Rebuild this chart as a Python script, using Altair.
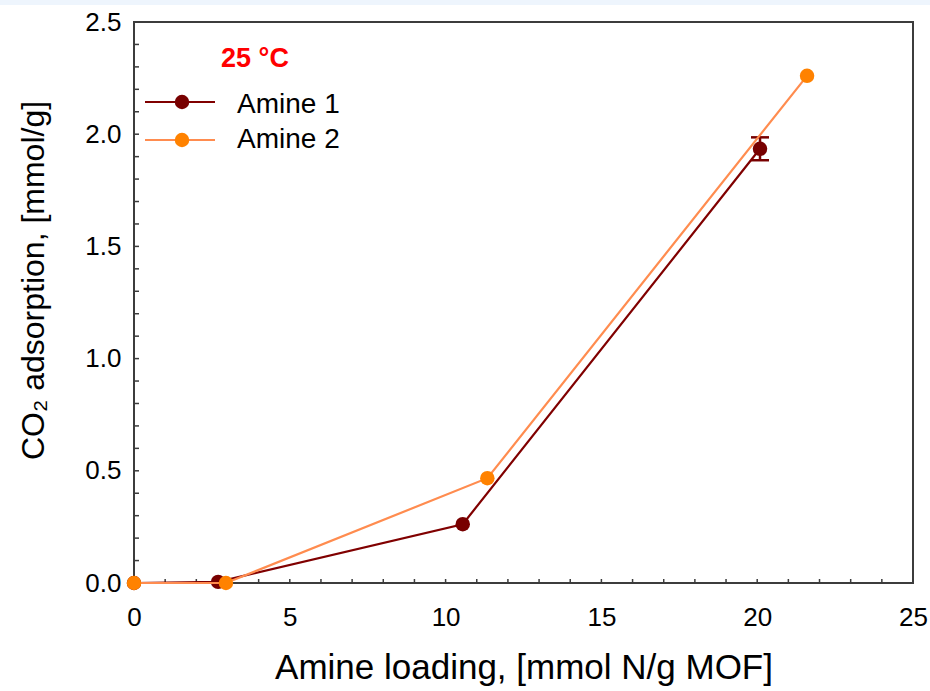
import altair as alt
import pandas as pd

# ---- data ----
series = ["Amine 1", "Amine 2"]
amine1_x = [0.0, 2.70, 10.55, 20.09]
amine1_y = [0.0, 0.005, 0.262, 1.935]
amine1_err = [0.0, 0.0, 0.0, 0.051]
amine2_x = [0.0, 2.95, 11.34, 21.60]
amine2_y = [0.0, 0.0, 0.467, 2.26]

x_major = [0, 5, 10, 15, 20, 25]
y_major = [0.0, 0.5, 1.0, 1.5, 2.0, 2.5]
x_minor = list(range(0, 26))
y_minor = [round(i * 0.1, 1) for i in range(26)]

legend_title = "25 °C"
x_title = "Amine loading, [mmol N/g MOF]"
y_title = "CO₂ adsorption, [mmol/g]"

line_colors = ["#800000", "#ff8c4f"]
marker_colors = ["#780000", "#ff8200"]

W, H = 779, 561
FONT = "Liberation Sans"

df1 = pd.DataFrame({"x": amine1_x, "y": amine1_y, "err": amine1_err})
df2 = pd.DataFrame({"x": amine2_x, "y": amine2_y})
err_df = df1[df1["err"] > 0].copy()
err_df["lo"] = err_df["y"] - err_df["err"]
err_df["hi"] = err_df["y"] + err_df["err"]
cap_df = pd.DataFrame({"x": list(err_df["x"]) * 2,
                       "y": list(err_df["lo"]) + list(err_df["hi"])})

xscale = alt.Scale(domain=[0, 25], nice=False, zero=False)
yscale = alt.Scale(domain=[0, 2.5], nice=False, zero=False)

xaxis = alt.Axis(values=x_major, format="d", title=x_title, grid=False,
                 domain=False, ticks=False, tickSize=0, labelFontSize=26,
                 labelFont=FONT, labelColor="#000000", labelBaseline="alphabetic",
                 labelPadding=42, titleFont=FONT, titleFontSize=35,
                 titleFontWeight="normal", titleColor="#000000",
                 titleBaseline="alphabetic", titleX=W / 2, titleY=95,
                 labelFlush=False, labelOverlap=False)
yaxis = alt.Axis(values=y_major, format=".1f", title=y_title, grid=False,
                 domain=False, ticks=False, tickSize=0, labelFontSize=26,
                 labelFont=FONT, labelColor="#000000", labelPadding=13,
                 titleFont=FONT, titleFontSize=32, titleFontWeight="normal",
                 titleColor="#000000", titleBaseline="alphabetic",
                 titleX=-91, titleY=258, titleAngle=-90,
                 labelFlush=False, labelOverlap=False)

X = alt.X("x:Q", scale=xscale, axis=xaxis)
Y = alt.Y("y:Q", scale=yscale, axis=yaxis)

# inward minor ticks
xt = alt.Chart(pd.DataFrame({"x": x_minor})).mark_rule(
    color="#3c3c3c", strokeWidth=1.5).encode(
    x=X, y=alt.value(H), y2=alt.value(H - 4))
yt = alt.Chart(pd.DataFrame({"y": y_minor})).mark_rule(
    color="#3c3c3c", strokeWidth=1.5).encode(
    y=Y, x=alt.value(0), x2=alt.value(5))

# series 1
l1 = alt.Chart(df1).mark_line(color=line_colors[0], strokeWidth=2.2).encode(x=X, y=Y)
p1 = alt.Chart(df1).mark_point(filled=True, shape="circle", size=210,
                               color=marker_colors[0], opacity=1).encode(x=X, y=Y)
eb = alt.Chart(err_df).mark_rule(color=marker_colors[0], strokeWidth=2.5).encode(
    x=X, y=alt.Y("lo:Q", scale=yscale, axis=yaxis), y2="hi:Q")
caps = alt.Chart(cap_df).mark_tick(color=marker_colors[0], orient="horizontal",
                                   size=18, thickness=2.5, opacity=1).encode(x=X, y=Y)

# series 2
l2 = alt.Chart(df2).mark_line(color=line_colors[1], strokeWidth=2.2).encode(x=X, y=Y)
p2 = alt.Chart(df2).mark_point(filled=True, shape="circle", size=210,
                               color=marker_colors[1], opacity=1).encode(x=X, y=Y)

# legend (drawn inside the plot area)
one = pd.DataFrame({"k": [0]})
leg_title = alt.Chart(one).mark_text(
    text=legend_title, color="#ff0000", font=FONT, fontSize=27, fontWeight="bold",
    align="center", baseline="alphabetic").encode(x=alt.value(121), y=alt.value(45))

leg_layers = [leg_title]
row_y = [80, 118]
text_y = [91, 126]
for i, name in enumerate(series):
    leg_layers.append(alt.Chart(one).mark_rule(color=line_colors[i], strokeWidth=2.2).encode(
        x=alt.value(11), x2=alt.value(81), y=alt.value(row_y[i])))
    leg_layers.append(alt.Chart(one).mark_point(filled=True, shape="circle", size=210,
                                               color=marker_colors[i], opacity=1).encode(
        x=alt.value(48), y=alt.value(row_y[i])))
    leg_layers.append(alt.Chart(one).mark_text(
        text=name, color="#000000", font=FONT, fontSize=28, align="left",
        baseline="alphabetic").encode(x=alt.value(103), y=alt.value(text_y[i])))

# thin light band at the very top of the picture
band = alt.Chart(one).mark_rect(color="#eef5fd").encode(
    x=alt.value(-134), x2=alt.value(796), y=alt.value(-22), y2=alt.value(-17))

chart = alt.layer(band, xt, yt, l1, eb, caps, p1, l2, p2, *leg_layers).properties(
    width=W, height=H,
    autosize=alt.AutoSizeParams(type="none"),
    padding={"left": 134, "top": 22, "right": 17, "bottom": 108},
    background="#ffffff",
).configure_view(stroke="#3c3c3c", strokeWidth=2)

chart.save("out.html", embed_options={"renderer": "svg", "actions": False})
